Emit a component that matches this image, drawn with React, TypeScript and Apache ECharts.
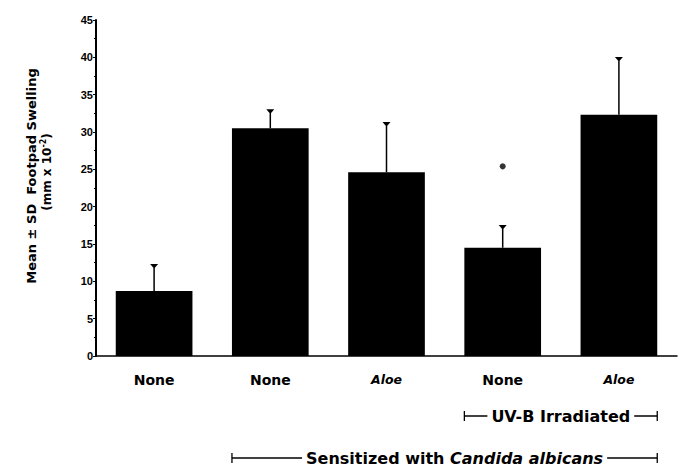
import React, { useEffect, useRef } from "react";
import * as echarts from "echarts";

const categories = ["None", "None", "Aloe", "None", "Aloe"];
const italicCats = [false, false, true, false, true];
const means = [8.7, 30.5, 24.6, 14.5, 32.3];
const sdTops = [12.2, 32.9, 31.2, 17.4, 39.9];
const starIndex = 3;
const starValue = 25.4;
const yTicks = { min: 0, max: 45, interval: 5 };

const FONT = "Liberation Sans";
const WIDE = "DejaVu Sans";

export default function App() {
  const ref = useRef<HTMLDivElement>(null);
  useEffect(() => {
    const chart = echarts.init(ref.current!, null, { renderer: "svg" });
    const option: any = {
      animation: false,
      backgroundColor: "#fff",
      grid: { left: 96, right: 4, top: 20, bottom: 112 },
      xAxis: {
        type: "category",
        data: categories,
        axisLine: { lineStyle: { color: "#000", width: 1.5 } },
        axisTick: { show: false },
        axisLabel: {
          margin: 17,
          color: "#000",
          fontFamily: WIDE,
          fontWeight: "bold",
          fontSize: 14,
          formatter: (v: string, i: number) => (italicCats[i] ? "{it|" + v + "}" : v),
          rich: { it: { fontStyle: "italic", fontWeight: "bold", fontSize: 12.5, fontFamily: WIDE, color: "#000" } },
        },
      },
      yAxis: {
        type: "value",
        min: yTicks.min,
        max: yTicks.max,
        interval: yTicks.interval,
        axisLine: { show: true, lineStyle: { color: "#000", width: 2 } },
        axisTick: { show: true, length: 3, inside: false, lineStyle: { color: "#000" } },
        minorTick: { show: true, splitNumber: 2, length: 2, lineStyle: { color: "#000" } },
        splitLine: { show: false },
        axisLabel: {
          margin: 3,
          color: "#000",
          fontFamily: FONT,
          fontWeight: "bold",
          fontSize: 11,
        },
      },
      series: [
        {
          type: "bar",
          data: means,
          barWidth: "66%",
          itemStyle: { color: "#000" },
          z: 2,
        },
        {
          type: "custom",
          data: means.map((m, i) => [i, m, sdTops[i]]),
          z: 3,
          renderItem: (params: any, api: any) => {
            const x = api.coord([api.value(0), api.value(1)])[0];
            const y0 = api.coord([api.value(0), api.value(1)])[1];
            const y1 = api.coord([api.value(0), api.value(2)])[1];
            return {
              type: "group",
              children: [
                { type: "line", shape: { x1: x, y1: y0, x2: x, y2: y1 }, style: { stroke: "#000", lineWidth: 1.5 } },
                { type: "polygon", shape: { points: [[x - 4, y1 - 1], [x + 4, y1 - 1], [x + 1, y1 + 2.5], [x - 1, y1 + 2.5]] }, style: { fill: "#000" } },
              ],
            };
          },
        },
        {
          type: "scatter",
          data: [[starIndex, starValue]],
          symbol: "circle",
          symbolSize: 6,
          itemStyle: { color: "#000" },
        },
      ],
    };
    chart.setOption(option);

    const band = (681 - 96 - 4) / categories.length;
    const half = (band * 0.66) / 2;
    const cx = (i: number) => chart.convertToPixel({ xAxisIndex: 0 }, i) as number;
    const bracket = (x1: number, x2: number, y: number, rich: string, richStyles: any, shift: number) => ({
      type: "group",
      children: [
        { type: "line", shape: { x1, y1: y, x2, y2: y }, style: { stroke: "#000", lineWidth: 1.3 } },
        { type: "line", shape: { x1, y1: y - 5, x2: x1, y2: y + 5 }, style: { stroke: "#000", lineWidth: 1.3 } },
        { type: "line", shape: { x1: x2, y1: y - 5, x2, y2: y + 5 }, style: { stroke: "#000", lineWidth: 1.3 } },
        {
          type: "text",
          x: (x1 + x2) / 2 + shift,
          y,
          z: 10,
          style: {
            text: rich,
            align: "center",
            verticalAlign: "middle",
            fill: "#000",
            font: "bold 16px " + WIDE,
            backgroundColor: "#fff",
            padding: [0, 4],
            rich: richStyles,
          },
        },
      ],
    });
    const itRich = { it: { fontStyle: "italic", fontWeight: "bold", fontSize: 16, fontFamily: WIDE, fill: "#000", color: "#000" } };

    chart.setOption({
      graphic: [
        {
          type: "text",
          x: 31,
          y: 176,
          rotation: Math.PI / 2,
          style: {
            text: "Mean \u00B1 SD  Footpad Swelling",
            align: "center",
            verticalAlign: "middle",
            fill: "#000",
            font: "bold 13px " + WIDE,
          },
        },
        {
          type: "text",
          x: 47,
          y: 172,
          rotation: Math.PI / 2,
          style: {
            text: "(mm x 10{sup|-2})",
            align: "center",
            verticalAlign: "middle",
            fill: "#000",
            font: "bold 12px " + WIDE,
            rich: { sup: { fontSize: 8, fontWeight: "bold", fontFamily: WIDE, padding: [0, 0, 7, 0] } },
          },
        },
        bracket(cx(3) - half, cx(4) + half, 416, "UV-B Irradiated", {}, 0),
        bracket(cx(1) - half, cx(4) + half, 458, "Sensitized with {it|Candida albicans}", itRich, 10),
      ],
    });
    return () => chart.dispose();
  }, []);
  return <div ref={ref} style={{ width: 681, height: 468, position: "absolute", left: 0, top: 0 }} />;
}
